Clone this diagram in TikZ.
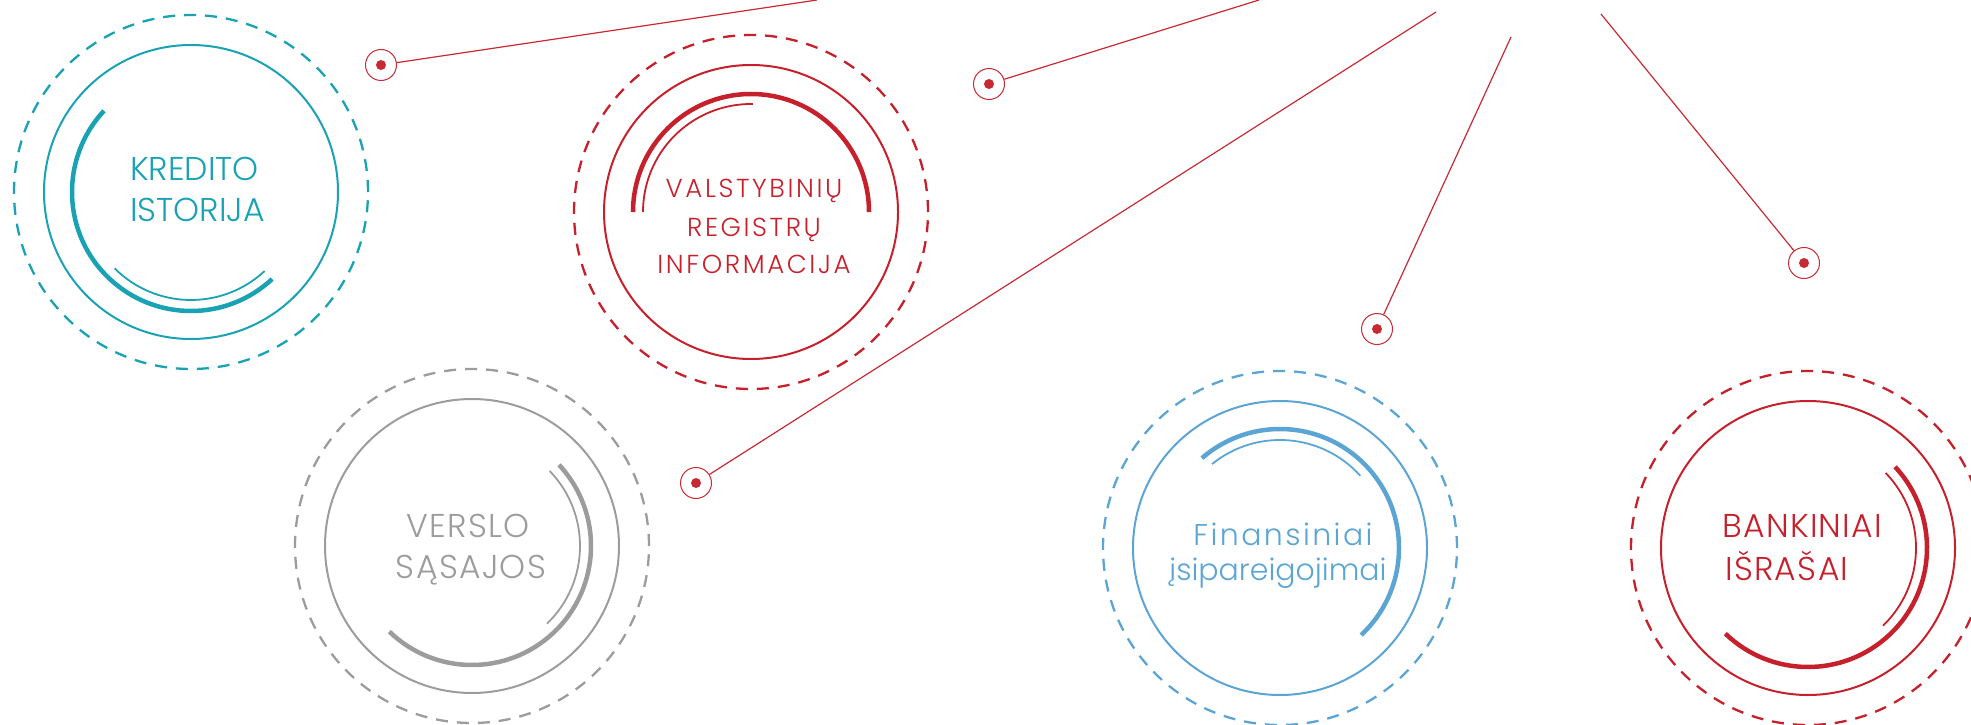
\documentclass[tikz,border=0pt]{standalone}
\usepackage{fontspec}
\IfFontExistsTF{Poppins Light}{\setmainfont{Poppins Light}}{\setmainfont{Poppins}}
\IfFontExistsTF{Poppins Light}{\newfontfamily\spaceda[LetterSpace=4]{Poppins Light}\newfontfamily\spacedb[LetterSpace=8]{Poppins Light}\newfontfamily\spacedc[LetterSpace=10]{Poppins Light}}{\newfontfamily\spaceda[LetterSpace=4]{Poppins}\newfontfamily\spacedb[LetterSpace=8]{Poppins}\newfontfamily\spacedc[LetterSpace=10]{Poppins}}
\definecolor{teal1}{HTML}{19A1B4}
\definecolor{red1}{HTML}{C5202B}
\definecolor{gray1}{HTML}{9C9C9C}
\definecolor{blue1}{HTML}{5BA5D5}
\definecolor{pinred}{HTML}{C82A33}
\begin{document}
\begin{tikzpicture}[x=1pt,y=-1pt,
  dashring/.style={line width=2.3pt, dash pattern=on 12pt off 9pt},
  ring/.style={line width=2pt},
  thickarc/.style={line width=4.5pt},
  thinarc/.style={line width=1.8pt},
  pinnode/.style={circle, draw=pinred, line width=1pt, minimum size=31pt, inner sep=0pt},
  conn/.style={draw=pinred, line width=1.2pt},
  lbl/.style={inner sep=0pt, font=\fontsize{33}{40}\selectfont},
  lblsp/.style={inner sep=0pt, font=\fontsize{33}{40}\spaceda},
  lblsmall/.style={inner sep=0pt, font=\fontsize{26}{32}\spacedc},
  lbllow/.style={inner sep=0pt, font=\fontsize{30}{36}\selectfont},
  lbllowsp/.style={inner sep=0pt, font=\fontsize{30}{36}\spacedb}
]
\useasboundingbox (0,0) rectangle (1971,725);

% centres
\coordinate (c1) at (191,192);
\coordinate (c2) at (751,212);
\coordinate (c3) at (472,546);
\coordinate (c4) at (1280,548);
\coordinate (c5) at (1808,548);

% circle 1 (teal)
\begin{scope}[draw=teal1, color=teal1]
\draw[dashring] (c1) circle[radius=177pt];
\draw[ring] (c1) circle[radius=147pt];
\draw[thickarc] ([shift={(137:119pt)}]c1) arc[start angle=137, end angle=313, radius=119pt];
\draw[thinarc] ([shift={(225:108pt)}]c1) arc[start angle=225, end angle=313, radius=108pt];
\end{scope}
\node[lbl, text=teal1, anchor=base west] (k1) at (130,180) {KREDITO};
\node[lbl, text=teal1, anchor=base west] (k2) at (130,221) {ISTORIJA};

% circle 2 (red)
\begin{scope}[draw=red1, color=red1]
\draw[dashring] (c2) circle[radius=177pt];
\draw[ring] (c2) circle[radius=147pt];
\draw[thickarc] ([shift={(180:118pt)}]c2) arc[start angle=180, end angle=0, radius=118pt];
\draw[thinarc] ([shift={(180:108pt)}]c2) arc[start angle=180, end angle=89, radius=108pt];
\end{scope}
\node[lblsmall, text=red1, anchor=base] (v1) at (754,197) {VALSTYBINIŲ};
\node[lblsmall, text=red1, anchor=base] (v2) at (754,236) {REGISTRŲ};
\node[lblsmall, text=red1, anchor=base] (v3) at (754,273) {INFORMACIJA};

% circle 3 (gray)
\begin{scope}[draw=gray1, color=gray1]
\draw[dashring] (c3) circle[radius=177pt];
\draw[ring] (c3) circle[radius=147pt];
\draw[thickarc] ([shift={(43:119pt)}]c3) arc[start angle=43, end angle=-134, radius=119pt];
\draw[thinarc] ([shift={(44:108pt)}]c3) arc[start angle=44, end angle=-46, radius=108pt];
\end{scope}
\node[lblsp, text=gray1, anchor=base] (s1) at (468,537) {VERSLO};
\node[lblsp, text=gray1, anchor=base] (s2) at (471,578) {SĄSAJOS};

% circle 4 (blue)
\begin{scope}[draw=blue1, color=blue1]
\draw[dashring] (c4) circle[radius=177pt];
\draw[ring] (c4) circle[radius=147pt];
\draw[thickarc] ([shift={(131:119pt)}]c4) arc[start angle=131, end angle=-47, radius=119pt];
\draw[thinarc] ([shift={(129:108pt)}]c4) arc[start angle=129, end angle=42, radius=108pt];
\end{scope}
\node[lbllowsp, text=blue1, anchor=base] (f1) at (1283,545) {Finansiniai};
\node[lbllow, text=blue1, anchor=base] (f2) at (1278,580) {įsipareigojimai};

% circle 5 (red)
\begin{scope}[draw=red1, color=red1]
\draw[dashring] (c5) circle[radius=177pt];
\draw[ring] (c5) circle[radius=147pt];
\draw[thickarc] ([shift={(43:119pt)}]c5) arc[start angle=43, end angle=-134, radius=119pt];
\draw[thinarc] ([shift={(44:108pt)}]c5) arc[start angle=44, end angle=-46, radius=108pt];
\end{scope}
\node[lblsp, text=red1, anchor=base west] (b1) at (1722,537) {BANKINIAI};
\node[lblsp, text=red1, anchor=base west] (b2) at (1725,580) {IŠRAŠAI};

% pins
\node[pinnode] (p1) at (381,65) {};
\node[pinnode] (p2) at (989,84) {};
\node[pinnode] (p3) at (696,483) {};
\node[pinnode] (p4) at (1377,329) {};
\node[pinnode] (p5) at (1804,263) {};
\foreach \p in {p1,p2,p3,p4,p5} \fill[pinred] (\p) circle[radius=5pt];

% connector ends
\coordinate (t1) at (817,0);
\coordinate (t2) at (1259,0);
\coordinate (t3) at (1436,12);
\coordinate (t4) at (1511,37);
\coordinate (t5) at (1601,14);
\draw[conn] (p1) -- (t1);
\draw[conn] (p2) -- (t2);
\draw[conn] (p3) -- (t3);
\draw[conn] (p4) -- (t4);
\draw[conn] (p5) -- (t5);
\end{tikzpicture}
\end{document}
